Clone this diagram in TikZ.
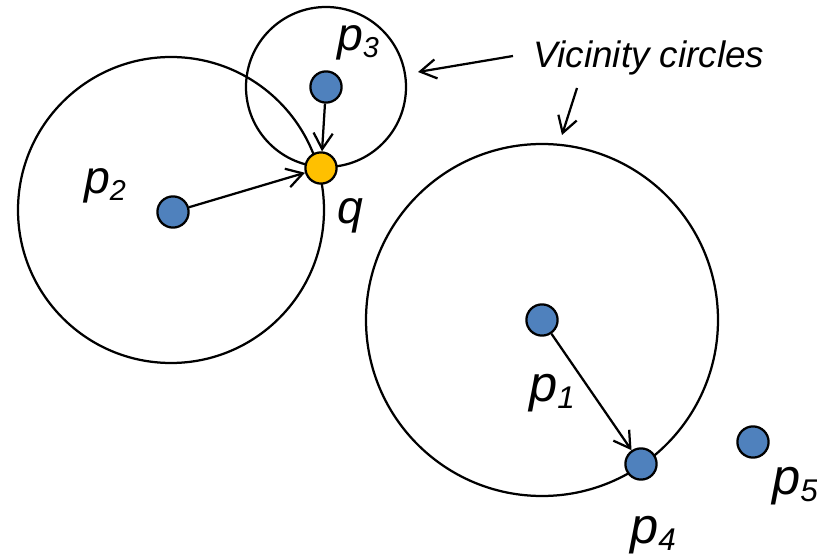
\documentclass[tikz,border=0pt]{standalone}
\usepackage{fontspec}
\setmainfont{Liberation Sans}
\usetikzlibrary{arrows.meta}
\definecolor{dotblue}{HTML}{4F81BD}
\definecolor{qyellow}{HTML}{FFC000}
\newcommand\lowsub[1]{\raisebox{-.15em}{\scalebox{.62}{#1}}}

\begin{document}
\begin{tikzpicture}[x=.025cm,y=-.025cm,line width=1.6pt,
  ring/.style={draw=black},
  dot/.style={circle,draw=black,fill=dotblue,minimum size=.78cm,inner sep=0pt},
  lbl/.style={font=\fontsize{33}{38}\selectfont\itshape,inner sep=0pt},
  biglbl/.style={font=\fontsize{36}{42}\selectfont\itshape,inner sep=0pt},
  pointer/.style={-{Straight Barb[length=.4cm,width=.48cm]}}]
\useasboundingbox (0,0) rectangle (817,557);
% vicinity circles
\foreach \xy/\r in {{326,87}/80,{171,210}/153,{542,320}/176}
  \draw[ring] (\xy) circle[radius=\r];
% points
\foreach \n/\xy in {p1/{542,320},p2/{173,212},p3/{326,87},p4/{641,464},p5/{753,442}}
  \node[dot] (\n) at (\xy) {};
\node[dot,fill=qyellow] (q) at (321,168) {};
\draw[pointer] (p3) -- (q);
\draw[pointer] (p2) -- (q);
\draw[pointer] (p1) -- (p4);
% labels
\node[lbl] (lp3) at (358,43) {p\lowsub{3}};
\node[lbl] (lp2) at (105,186) {p\lowsub{2}};
\node[lbl] (lq) at (350,216) {q};
\foreach \n/\xy in {1/{552,393},4/{653,535},5/{795,486}}
  \node[biglbl] (lp\n) at (\xy) {p\lowsub{\n}};
\node[font=\fontsize{26.2}{30}\selectfont\itshape,inner sep=0pt] (vic) at (649,58) {Vicinity circles};
\coordinate (tailA) at (513,56);
\coordinate (tipA) at (418,72);
\coordinate (tailB) at (577,88);
\coordinate (tipB) at (562,135);
\draw[pointer] (tailA) -- (tipA);
\draw[pointer] (tailB) -- (tipB);
\end{tikzpicture}
\end{document}
